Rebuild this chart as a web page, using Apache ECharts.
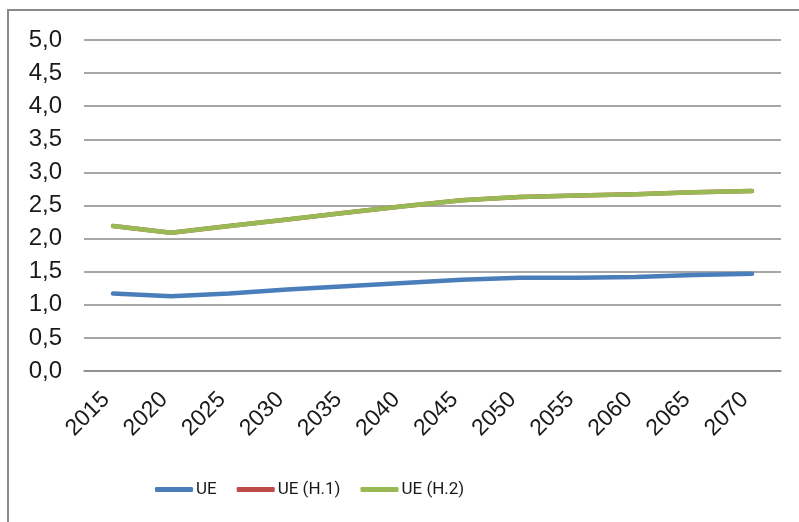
<!DOCTYPE html>
<html>
<head>
<meta charset="utf-8">
<script src="https://cdn.jsdelivr.net/npm/echarts@6/dist/echarts.min.js"></script>
<style>html,body{margin:0;padding:0;background:#fff;}#c{width:799px;height:522px;}</style>
</head>
<body>
<div id="c"></div>
<script>
const years = ['2015','2020','2025','2030','2035','2040','2045','2050','2055','2060','2065','2070'];
const ue   = [1.17, 1.13, 1.17, 1.23, 1.28, 1.33, 1.38, 1.41, 1.41, 1.42, 1.45, 1.47];
const ueH1 = [2.19, 2.09, 2.19, 2.29, 2.39, 2.49, 2.58, 2.63, 2.65, 2.67, 2.70, 2.72];
const ueH2 = [2.19, 2.09, 2.19, 2.29, 2.39, 2.49, 2.58, 2.63, 2.65, 2.67, 2.70, 2.72];
const seriesNames = ['UE', 'UE (H.1)', 'UE (H.2)'];
const yTicks = {min: 0, max: 5, interval: 0.5};

const chart = echarts.init(document.getElementById('c'), null, {renderer: 'canvas'});
const font = "'Liberation Sans', Arial, sans-serif";
const mk = (name, data, color) => ({
  name, type: 'line', data, showSymbol: false, symbol: 'none',
  lineStyle: {color, width: 4.5, cap: 'round', join: 'round'},
  itemStyle: {color}, animation: false
});
chart.setOption({
  animation: false,
  graphic: [{type: 'rect', shape: {x: 8, y: 10, width: 900, height: 600},
    style: {fill: 'none', stroke: '#8a8a8a', lineWidth: 2}, z: -1}],
  grid: {left: 84, right: 18, top: 40, bottom: 151, containLabel: false},
  xAxis: {
    type: 'category', data: years, boundaryGap: true,
    axisLine: {lineStyle: {color: '#8a8a8a', width: 1.5}},
    axisTick: {show: false},
    axisLabel: {rotate: 45, color: '#1a1a1a', fontSize: 23, fontFamily: font, margin: 18, padding: [0, 10, 0, 0]}
  },
  yAxis: {
    type: 'value', min: yTicks.min, max: yTicks.max, interval: yTicks.interval,
    axisLine: {show: false}, axisTick: {show: false},
    splitLine: {lineStyle: {color: '#8a8a8a', width: 1.5}},
    axisLabel: {color: '#1a1a1a', fontSize: 24, fontFamily: font, margin: 22,
      formatter: v => v.toFixed(1).replace('.', ',')}
  },
  legend: {
    data: seriesNames, left: 155, top: 481, padding: 0, itemWidth: 38, itemHeight: 5, itemGap: 20,
    icon: 'roundRect',
    textStyle: {color: '#1a1a1a', fontSize: 17, fontFamily: "Roboto, 'Liberation Sans', sans-serif", padding: [0, 0, 0, -2]}
  },
  series: [
    mk(seriesNames[0], ue, '#4a7ebb'),
    mk(seriesNames[1], ueH1, '#be4b48'),
    mk(seriesNames[2], ueH2, '#98b954')
  ]
});
</script>
</body>
</html>
